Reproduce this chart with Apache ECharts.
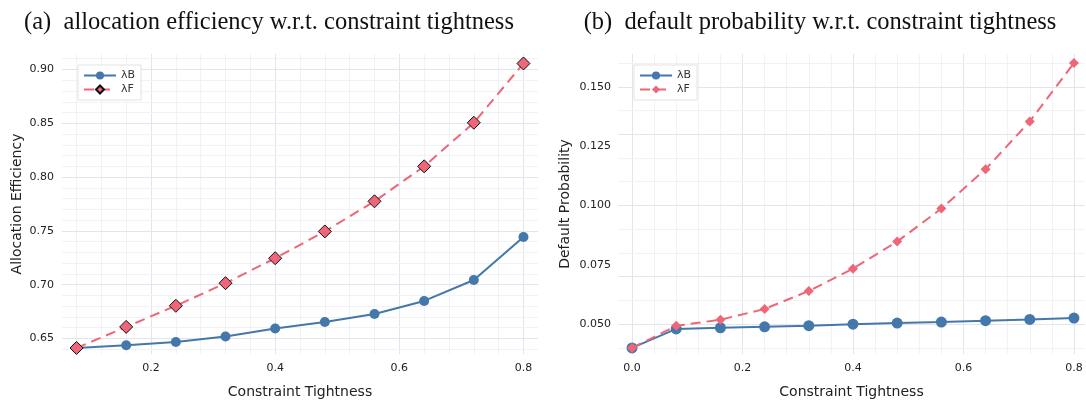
<!DOCTYPE html>
<html><head><meta charset="utf-8">
<script src="https://cdn.jsdelivr.net/npm/echarts@6/dist/echarts.min.js"></script>
<style>html,body{margin:0;padding:0;background:#fff}#c{width:1086px;height:404px}</style>
</head><body><div id="c"></div>
<script>
// ---- data ----
const tightnessA = [0.08, 0.16, 0.24, 0.32, 0.40, 0.48, 0.56, 0.64, 0.72, 0.80];
const effB = [0.6412, 0.6437, 0.6467, 0.6518, 0.6593, 0.6653, 0.6728, 0.6849, 0.7044, 0.7444];
const effF = [0.6412, 0.6608, 0.6804, 0.7014, 0.7246, 0.7495, 0.7775, 0.8100, 0.8505, 0.9056];
const tightnessB = [0.00, 0.08, 0.16, 0.24, 0.32, 0.40, 0.48, 0.56, 0.64, 0.72, 0.80];
const probB = [0.0400, 0.0480, 0.0485, 0.0489, 0.0494, 0.0500, 0.0505, 0.0509, 0.0515, 0.0520, 0.0526];
const probF = [0.0400, 0.0493, 0.0519, 0.0564, 0.0640, 0.0734, 0.0848, 0.0987, 0.1153, 0.1354, 0.1600];
const ticksAX = [0.2, 0.4, 0.6, 0.8];
const ticksAY = [0.65, 0.70, 0.75, 0.80, 0.85, 0.90];
const ticksBX = [0.0, 0.2, 0.4, 0.6, 0.8];
const ticksBY = [0.050, 0.075, 0.100, 0.125, 0.150];
const titleA = '(a)\u2002allocation efficiency w.r.t. constraint tightness';
const titleB = '(b)\u2002default probability w.r.t. constraint tightness';
const xName = 'Constraint Tightness';
const yNameA = 'Allocation Efficiency';
const yNameB = 'Default Probability';

// ---- styling ----
const BLUE = '#4477AA', RED = '#EE6677';
const MAJOR = '#e3e5ec', MINOR = '#f1f2f5';
const ranges = {
  ax: [0.0566, 0.8234], ay: [0.6356, 0.9144],
  bx: [-0.0254, 0.8200], by: [0.03745, 0.1638]
};

function minorVals(ticks, lo, hi, n) {
  const step = (ticks[1] - ticks[0]) / n;
  const out = [];
  for (let k = -200; k <= 200; k++) {
    if (k % n === 0) continue;
    const v = +(ticks[0] + k * step).toFixed(6);
    if (v > lo && v < hi) out.push(v);
  }
  return out;
}
function gridLines(axisKey, ticks, lo, hi) {
  const d = [];
  minorVals(ticks, lo, hi, 5).forEach(v => d.push({[axisKey]: v, lineStyle: {color: MINOR, width: 1, type: 'solid'}}));
  ticks.forEach(v => { if (v > lo && v < hi) d.push({[axisKey]: v, lineStyle: {color: MAJOR, width: 1, type: 'solid'}}); });
  return d;
}
function gridSeries(idx, xt, xr, yt, yr) {
  return {
    type: 'line', xAxisIndex: idx, yAxisIndex: idx, data: [], silent: true, z: 0,
    markLine: {
      z: 0, silent: true, symbol: ['none', 'none'], label: {show: false}, animation: false,
      emphasis: {disabled: true},
      data: gridLines('xAxis', xt, xr[0], xr[1]).concat(gridLines('yAxis', yt, yr[0], yr[1]))
    }
  };
}
const font = 'DejaVu Sans';
function xAxis(idx, r, ticks, dec) {
  return {
    type: 'value', gridIndex: idx, min: r[0], max: r[1],
    name: xName, nameLocation: 'middle', nameGap: 31,
    nameTextStyle: {fontFamily: font, fontSize: 14, color: '#222'},
    axisLine: {show: false}, axisTick: {show: false}, splitLine: {show: false},
    axisLabel: {customValues: ticks, formatter: v => v.toFixed(dec), fontFamily: font, fontSize: 11, color: '#222', margin: 9}
  };
}
function yAxis(idx, r, ticks, dec, name, gap, margin) {
  return {
    type: 'value', gridIndex: idx, min: r[0], max: r[1],
    name: name, nameLocation: 'middle', nameGap: gap,
    nameTextStyle: {fontFamily: font, fontSize: 14, color: '#222'},
    axisLine: {show: false}, axisTick: {show: false}, splitLine: {show: false},
    axisLabel: {customValues: ticks, formatter: v => v.toFixed(dec), fontFamily: font, fontSize: 11, color: '#222', margin: margin}
  };
}
function legend(left, names) {
  return {
    left: left, top: 65, orient: 'vertical', data: names,
    itemWidth: 32, itemHeight: 10, itemGap: 3, padding: [5, 6, 5, 5],
    borderColor: '#e2e2e2', borderWidth: 1, backgroundColor: '#fff',
    formatter: n => n.split('_')[0],
    textStyle: {fontFamily: font, fontSize: 11, color: '#333'}
  };
}
const titleStyle = {fontFamily: 'Liberation Serif', fontSize: 24.5, fontWeight: 'normal', color: '#111'};

const chart = echarts.init(document.getElementById('c'));
chart.setOption({
  animation: false,
  backgroundColor: '#fff',
  title: [
    {text: titleA, left: 264, top: 5, textAlign: 'center', textStyle: titleStyle},
    {text: titleB, left: 815, top: 5, textAlign: 'center', textStyle: titleStyle}
  ],
  grid: [
    {left: 62, right: 548, top: 54, bottom: 41},
    {left: 618, right: 1, top: 54, bottom: 41}
  ],
  legend: [legend(78, ['λB_a', 'λF_a']), legend(634, ['λB_b', 'λF_b'])],
  xAxis: [xAxis(0, ranges.ax, ticksAX, 1), xAxis(1, ranges.bx, ticksBX, 1)],
  yAxis: [yAxis(0, ranges.ay, ticksAY, 2, yNameA, 38, 8), yAxis(1, ranges.by, ticksBY, 3, yNameB, 46, 7)],
  series: [
    gridSeries(0, ticksAX, ranges.ax, ticksAY, ranges.ay),
    gridSeries(1, ticksBX, ranges.bx, ticksBY, ranges.by),
    {name: 'λB_a', type: 'line', xAxisIndex: 0, yAxisIndex: 0, z: 3,
     data: tightnessA.map((x, i) => [x, effB[i]]),
     symbol: 'circle', symbolSize: 10, showAllSymbol: true,
     lineStyle: {color: BLUE, width: 2}, itemStyle: {color: BLUE}},
    {name: 'λF_a', type: 'line', xAxisIndex: 0, yAxisIndex: 0, z: 4,
     data: tightnessA.map((x, i) => [x, effF[i]]),
     symbol: 'diamond', symbolSize: 13, showAllSymbol: true,
     lineStyle: {color: RED, width: 2, type: [10, 6]}, itemStyle: {color: RED, borderColor: '#111', borderWidth: 1}},
    {name: 'λB_b', type: 'line', xAxisIndex: 1, yAxisIndex: 1, z: 3,
     data: tightnessB.map((x, i) => [x, probB[i]]),
     symbol: 'circle', symbolSize: 11, showAllSymbol: true,
     lineStyle: {color: BLUE, width: 2}, itemStyle: {color: BLUE}},
    {name: 'λF_b', type: 'line', xAxisIndex: 1, yAxisIndex: 1, z: 4,
     data: tightnessB.map((x, i) => [x, probF[i]]),
     symbol: 'diamond', symbolSize: 10, showAllSymbol: true,
     lineStyle: {color: RED, width: 2, type: [10, 6]}, itemStyle: {color: RED}}
  ]
});
</script></body></html>
